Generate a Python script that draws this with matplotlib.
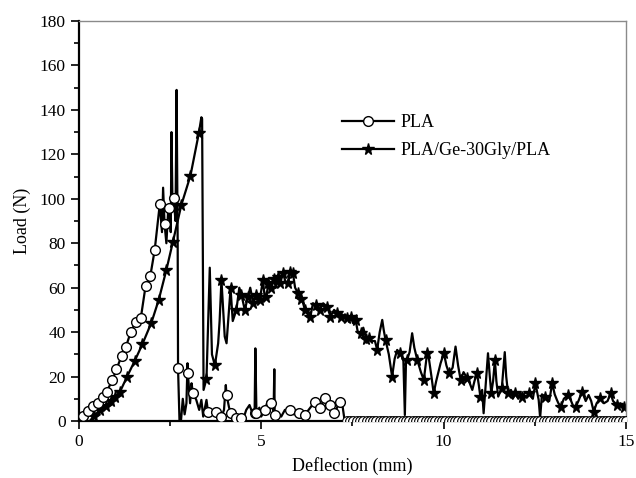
import matplotlib
matplotlib.use("Agg")
import matplotlib.pyplot as plt
from matplotlib.lines import Line2D
from matplotlib.ticker import MultipleLocator

plt.rcParams['font.family'] = ['Liberation Serif', 'DejaVu Serif']

# ---------------- data ----------------
pla_x = [0.0, 0.1, 0.26, 0.39, 0.53, 0.65, 0.76, 0.92, 1.03, 1.17, 1.29, 1.42, 1.56, 1.70, 1.83,
         1.96, 2.08, 2.22, 2.28, 2.31, 2.35, 2.40, 2.45, 2.48, 2.52, 2.54, 2.57, 2.60, 2.65, 2.68,
         2.71, 2.72, 2.76, 2.80, 2.85, 2.90, 2.95, 2.98, 2.99, 3.05, 3.09, 3.13, 3.22, 3.30, 3.36,
         3.41, 3.50, 3.54, 3.64, 3.70, 3.77, 3.91, 3.98, 4.03, 4.05, 4.12, 4.18, 4.32, 4.46, 4.55,
         4.59, 4.68, 4.75, 4.82, 4.84, 4.87, 4.95, 5.00, 5.10, 5.18, 5.22, 5.28, 5.34, 5.36, 5.37,
         5.45, 5.55, 5.65, 5.78, 5.90, 6.05, 6.19, 6.30, 6.47, 6.60, 6.74, 6.80, 6.88, 7.01, 7.08,
         7.15, 7.22, 7.29]
pla_y = [0.0, 2.4, 4.4, 6.9, 8.2, 10.9, 13.2, 18.4, 23.3, 29.2, 33.4, 39.9, 44.7, 46.5, 60.8,
         65.3, 77.0, 97.7, 85.0, 105.0, 88.7, 80.0, 95.0, 95.9, 85.0, 130.0, 95.0, 100.4, 90.0, 149.0,
         80.0, 23.7, 0.0, 0.0, 10.0, 3.0, 8.0, 26.0, 21.4, 8.0, 17.0, 12.4, 9.5, 5.0, 9.5,
         2.0, 9.5, 4.2, 2.7, 5.0, 4.2, 2.0, 5.0, 16.2, 11.7, 6.0, 3.5, 1.2, 1.2, 3.0,
         5.0, 7.2, 4.0, 3.5, 32.7, 3.5, 6.0, 2.0, 5.0, 9.0, 4.0, 8.0, 4.0, 23.3, 2.7,
         4.0, 2.0, 5.0, 5.0, 3.0, 3.5, 2.7, 5.0, 8.7, 5.7, 10.2, 6.0, 7.2, 3.5, 6.0,
         8.7, 8.0, 0.0]
# PLA markers (circles) placed at these deflections
pla_mark_x = [0.1, 0.26, 0.39, 0.53, 0.65, 0.76, 0.92, 1.03, 1.17, 1.29, 1.42, 1.56, 1.70, 1.83,
              1.96, 2.08, 2.22, 2.35, 2.48, 2.60, 2.72, 2.99, 3.13, 3.54, 3.77, 3.91, 4.05, 4.18,
              4.32, 4.46, 4.82, 4.87, 5.10, 5.28, 5.37, 5.78, 6.05, 6.19, 6.47, 6.60, 6.74, 6.88,
              7.01, 7.15]
# PLA after failure: zero load, densely sampled
pla_zero_x = [7.35, 7.44, 7.53, 7.62, 7.71, 7.80, 7.89, 7.98, 8.07, 8.16, 8.25, 8.34, 8.43, 8.52,
              8.61, 8.70, 8.79, 8.88, 8.97, 9.06, 9.15, 9.24, 9.33, 9.42, 9.51, 9.60, 9.69, 9.78,
              9.87, 9.96, 10.05, 10.14, 10.23, 10.32, 10.41, 10.50, 10.59, 10.68, 10.77, 10.86,
              10.95, 11.04, 11.13, 11.22, 11.31, 11.40, 11.49, 11.58, 11.67, 11.76, 11.85, 11.94,
              12.03, 12.12, 12.21, 12.30, 12.39, 12.48, 12.57, 12.66, 12.75, 12.84, 12.93, 13.02,
              13.11, 13.20, 13.29, 13.38, 13.47, 13.56, 13.65, 13.74, 13.83, 13.92, 14.01, 14.10,
              14.19, 14.28, 14.37, 14.46, 14.55, 14.64, 14.73, 14.82, 14.91, 15.00]
pla_zero_y = [0.0] * len(pla_zero_x)

ge_x = [0.30, 0.42, 0.58, 0.74, 0.88, 0.99, 1.12, 1.32, 1.53, 1.74, 1.99, 2.19, 2.40, 2.58, 2.81,
        3.06, 3.29, 3.36, 3.38, 3.42, 3.50, 3.59, 3.65, 3.73, 3.82, 3.86, 3.91, 4.00, 4.05, 4.16,
        4.22, 4.32, 4.40, 4.46, 4.55, 4.64, 4.70, 4.78, 4.87, 4.96, 5.05, 5.10, 5.14, 5.20, 5.28,
        5.35, 5.40, 5.46, 5.52, 5.60, 5.66, 5.73, 5.80, 5.87, 5.93, 6.01, 6.08, 6.15, 6.20, 6.28,
        6.35, 6.42, 6.49, 6.60, 6.70, 6.81, 6.90, 7.00, 7.09, 7.20, 7.30, 7.36, 7.45, 7.52, 7.59,
        7.65, 7.73, 7.80, 7.88, 7.95, 8.05, 8.12, 8.18, 8.25, 8.32, 8.36, 8.41, 8.50, 8.59, 8.66,
        8.73, 8.78, 8.82, 8.90, 8.94, 8.97, 9.00, 9.07, 9.14, 9.20, 9.28, 9.38, 9.46, 9.55, 9.60,
        9.67, 9.73, 9.80, 9.92, 10.01, 10.08, 10.15, 10.25, 10.33, 10.40, 10.47, 10.55, 10.65,
        10.72, 10.79, 10.85, 10.92, 10.97, 11.01, 11.06, 11.10, 11.15, 11.22, 11.27, 11.31, 11.36,
        11.41, 11.45, 11.50, 11.60, 11.68, 11.72, 11.77, 11.85, 11.90, 11.97, 12.05, 12.10, 12.16,
        12.25, 12.34, 12.45, 12.52, 12.58, 12.61, 12.65, 12.70, 12.79, 12.90, 12.98, 13.05, 13.11,
        13.15, 13.22, 13.30, 13.41, 13.50, 13.55, 13.63, 13.70, 13.80, 13.90, 13.98, 14.05, 14.12,
        14.20, 14.30, 14.40, 14.50, 14.58, 14.65, 14.76, 14.85, 14.94, 15.00]
ge_y = [0.0, 2.4, 5.0, 6.9, 9.0, 10.9, 12.9, 19.9, 27.0, 34.5, 44.3, 54.5, 68.0, 80.7, 97.2,
        110.4, 129.5, 136.7, 136.0, 14.0, 19.0, 69.0, 30.0, 25.0, 35.0, 45.0, 63.5, 38.0, 35.0, 59.7,
        45.0, 50.0, 60.0, 56.7, 50.0, 56.0, 60.0, 53.0, 56.7, 54.5, 63.5, 55.0, 56.0, 62.0, 59.7,
        64.0, 60.0, 65.0, 62.0, 66.5, 63.0, 62.0, 67.0, 66.5, 60.0, 57.5, 55.0, 53.0, 50.0, 50.0,
        47.0, 53.0, 52.2, 50.0, 53.0, 51.4, 47.0, 50.0, 48.5, 47.0, 48.0, 46.2, 47.0, 44.0, 45.5,
        40.0, 39.5, 42.0, 37.0, 37.2, 36.0, 36.0, 32.0, 40.0, 45.5, 41.0, 36.5, 30.0, 20.0, 28.0,
        32.0, 31.0, 30.6, 27.0, 2.7, 26.0, 27.5, 31.0, 39.5, 33.0, 27.5, 22.0, 18.5, 30.5, 28.0,
        20.0, 12.5, 18.0, 26.0, 30.5, 25.0, 21.5, 24.0, 33.5, 25.0, 18.5, 22.0, 19.2,
        17.0, 14.0, 18.0, 21.5, 16.0, 11.0, 14.0, 3.5, 15.0, 30.5, 20.0, 12.5, 18.0,
        27.5, 18.0, 11.0, 15.0, 31.0, 20.0, 12.5, 14.0, 10.0, 12.5, 10.0, 13.0, 11.0,
        13.0, 12.5, 10.0, 17.0, 12.0, 9.5, 1.5, 12.0, 11.0, 9.0, 17.0, 12.0, 9.5,
        8.0, 6.5, 10.0, 11.7, 9.0, 7.0, 6.5, 9.0, 13.2, 9.0, 11.7, 9.0, 4.2,
        8.0, 10.2, 8.0, 9.0, 12.5, 9.0, 7.2, 8.0, 6.5, 6.0]
# PLA/Ge-30Gly/PLA markers (stars) placed at these deflections
ge_mark_x = [0.42, 0.58, 0.74, 0.88, 0.99, 1.12, 1.32, 1.53, 1.74, 1.99, 2.19, 2.40, 2.58, 2.81,
             3.06, 3.29, 3.50, 3.73, 3.91, 4.16, 4.32, 4.46, 4.55, 4.64, 4.78, 4.87, 4.96, 5.05,
             5.14, 5.20, 5.28, 5.35, 5.46, 5.52, 5.60, 5.73, 5.80, 5.87, 6.01, 6.08, 6.20, 6.35,
             6.49, 6.60, 6.81, 6.90, 7.09, 7.20, 7.36, 7.45, 7.59, 7.73, 7.88, 7.95, 8.18, 8.41,
             8.59, 8.82, 9.00, 9.28, 9.46, 9.55, 9.73, 10.01, 10.15, 10.47, 10.65, 10.92, 11.01,
             11.31, 11.41, 11.60, 11.77, 11.97, 12.16, 12.34, 12.52, 12.79, 12.98, 13.22, 13.41,
             13.63, 13.80, 14.12, 14.30, 14.58, 14.76, 14.94]

series_labels = ['PLA', 'PLA/Ge-30Gly/PLA']
x_label = 'Deflection (mm)'
y_label = 'Load (N)'

# ---------------- figure ----------------
fig = plt.figure(figsize=(6.36, 4.78), dpi=100)
ax = fig.add_axes([0.124, 0.1192, 0.860, 0.8368])

lw = 1.6
ge_marks = [ge_x.index(v) for v in ge_mark_x]
pla_marks = [pla_x.index(v) for v in pla_mark_x]

ax.plot(ge_x, ge_y, color='black', lw=lw, marker='*', ms=8.5, markevery=ge_marks,
        mfc='black', mec='black', zorder=2)
ax.plot(pla_x, pla_y, color='black', lw=lw, marker='o', ms=7, markevery=pla_marks,
        mfc='white', mec='black', mew=1.0, zorder=3)
ax.plot(pla_zero_x, pla_zero_y, color='black', lw=lw, marker='o', ms=7,
        mfc='white', mec='black', mew=0.8, zorder=3)

ax.set_xlim(0, 15)
ax.set_ylim(0, 180)
ax.xaxis.set_major_locator(MultipleLocator(5))
ax.xaxis.set_minor_locator(MultipleLocator(2.5))
ax.yaxis.set_major_locator(MultipleLocator(20))
ax.yaxis.set_minor_locator(MultipleLocator(10))
ax.tick_params(which='both', direction='out', top=False, right=False, labelsize=12.5,
               width=1.2, colors='black')
ax.tick_params(which='major', length=6)
ax.tick_params(which='minor', length=3.5)

for s in ['left', 'bottom']:
    ax.spines[s].set_linewidth(1.6)
    ax.spines[s].set_color('black')
for s in ['top', 'right']:
    ax.spines[s].set_linewidth(1.0)
    ax.spines[s].set_color('#8a8a8a')

ax.set_xlabel(x_label, fontsize=13, labelpad=5)
ax.set_ylabel(y_label, fontsize=13, labelpad=6)

handles = [
    Line2D([], [], color='black', lw=lw, marker='o', ms=7, mfc='white', mec='black'),
    Line2D([], [], color='black', lw=lw, marker='*', ms=8.5, mfc='black', mec='black'),
]
ax.legend(handles, series_labels, loc='upper left', bbox_to_anchor=(0.468, 0.785),
          frameon=False, fontsize=13, handlelength=2.9, handletextpad=0.35,
          labelspacing=0.6, borderaxespad=0.0)

fig.savefig('out.png', dpi=100)
